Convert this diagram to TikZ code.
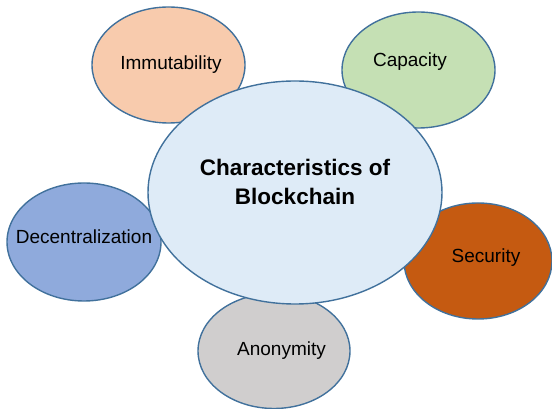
\documentclass[tikz,border=0pt]{standalone}
\usepackage{fontspec}
\setmainfont{Liberation Sans}
\usetikzlibrary{shapes.geometric}
\definecolor{edgeblue}{HTML}{41719C}
\definecolor{peach}{HTML}{F8CBAD}
\definecolor{lgreen}{HTML}{C5E0B4}
\definecolor{lblue}{HTML}{DEEBF7}
\definecolor{mblue}{HTML}{8FAADC}
\definecolor{rust}{HTML}{C55A11}
\definecolor{lgray}{HTML}{D0CECE}
\tikzset{
  bubble/.style={ellipse, draw=edgeblue, line width=1.4pt, inner sep=0pt},
  lbl/.style={font=\fontsize{19}{22}\selectfont, text=black, inner sep=0pt},
  mainlbl/.style={font=\fontsize{22.5}{29}\selectfont\bfseries, text=black, align=center, inner sep=0pt}
}
\begin{document}
\begin{tikzpicture}[x=1pt,y=1pt]
\useasboundingbox (0,0) rectangle (552,409);
\node[bubble, fill=peach, minimum width=153pt, minimum height=116pt] (imm) at (168.5,344) {};
\node[bubble, fill=lgreen, minimum width=153pt, minimum height=116pt] (cap) at (418.5,339) {};
\node[bubble, fill=mblue, minimum width=154pt, minimum height=118pt] (dec) at (84,167) {};
\node[bubble, fill=rust, minimum width=148pt, minimum height=116pt] (sec) at (478,148) {};
\node[bubble, fill=lgray, minimum width=152pt, minimum height=115pt] (ano) at (274,58) {};
\node[bubble, fill=lblue, minimum width=294pt, minimum height=223pt] (main) at (295,216.5) {};
\node[lbl] (timm) at (171,344) {Immutability};
\node[lbl] (tcap) at (410,347) {Capacity};
\node[lbl] (tdec) at (84,172) {Decentralization};
\node[lbl] (tsec) at (486,151) {Security};
\node[lbl] (tano) at (281.5,58) {Anonymity};
\node[mainlbl] (tmain) at (295,227) {Characteristics of\\Blockchain};
\end{tikzpicture}
\end{document}
